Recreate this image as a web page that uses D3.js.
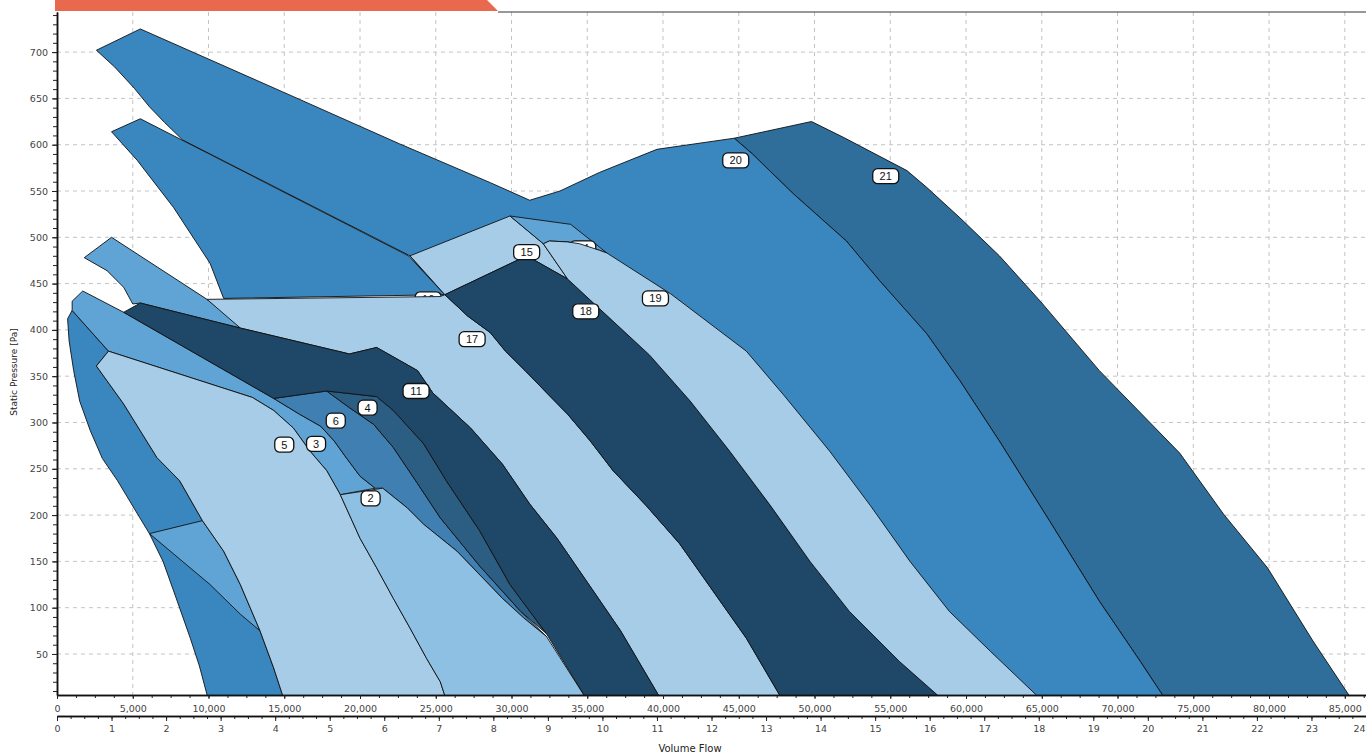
<!DOCTYPE html>
<html><head><meta charset="utf-8">
<script src="https://cdn.jsdelivr.net/npm/d3@7"></script>
<style>body{margin:0;background:#fff}svg{display:block}</style>
</head><body><svg id="c" width="1366" height="754"></svg>
<script>
// ---------- tick data ----------
const flowTicks = [0,5000,10000,15000,20000,25000,30000,35000,40000,45000,50000,55000,60000,65000,70000,75000,80000,85000];
const m3sTicks = [0,1,2,3,4,5,6,7,8,9,10,11,12,13,14,15,16,17,18,19,20,21,22,23,24];
const pressureTicks = [50,100,150,200,250,300,350,400,450,500,550,600,650,700];

// ---------- region outlines: [flow m3/h, static pressure Pa] ----------
const fan21Outline = [[44700,607],[49800,625],[51900,608],[56100,572],[57400,554],[59600,521],[62200,480],[64900,431],[68800,356],[74100,267],[77000,201],[79900,143],[82900,64],[85500,0]];
const edge20_21 = [[44700,607],[45900,590],[48600,547],[52100,496],[54300,453],[57400,396],[59600,345],[62200,280],[65500,194],[68800,107],[71500,42],[73200,0]];
const fan20Outline = [[2600,702],[5500,725],[14900,657],[22600,601],[28600,559],[31200,540],[33200,550],[35800,570],[39600,595]];
const fan20Inner = [[47900,0],[23300,480],[8300,605],[7100,624],[6100,641],[5100,661],[3800,684]];
const fanW2 = [[3600,614],[5500,628],[23200,480],[25600,438],[11000,434],[10100,472],[7700,532],[5300,583]];
const fanW3 = [[1800,478],[3600,500],[9900,433],[11200,417],[12100,402],[5500,429],[5000,428],[4400,446],[3300,464]];
const edge5Left = [[2600,361],[4400,320],[6600,262],[8100,237],[9600,194],[11000,161],[12100,125],[13400,75],[14300,35],[15000,0]];
const fan1Left = [[1000,421],[700,412],[800,388],[1100,356],[1500,323],[2200,291],[3000,261],[4000,237],[5100,207],[6100,180],[7000,150],[7700,118],[8800,67],[9400,37],[10000,0]];
const edge5Top = [[3400,377],[12900,327],[14300,313],[15600,294],[16700,269],[17800,248],[18700,222]];
const edge5Right = [[18700,222],[20000,175],[21100,143],[22200,110],[23300,78],[24400,45],[25300,20],[25700,0]];
const edge3_6 = [[14300,326],[16000,309],[17400,296],[18300,280],[19000,264],[20000,242],[21000,229]];
const fanT = [[6100,180],[9600,194],[11000,161],[12100,125],[13400,75],[12100,93],[10100,125],[7700,158]];
const edge6_4 = [[17800,334],[19300,316],[20900,298],[22200,273],[23800,234],[25300,197],[27900,145],[30600,96],[32300,69]];
const edge2Right = [[21500,229],[23100,208],[24200,190],[26400,161],[29400,110],[30800,89],[32300,69]];
const edge11Left = [[21100,328],[22200,313],[24200,277],[25700,237],[27900,183],[29900,125],[32300,72],[35000,0]];
const edge11Right = [[24800,332],[27300,294],[29400,255],[31200,212],[33000,175],[35400,118],[37200,75],[39900,0]];
const edge11Top = [[4400,419],[5500,429],[12100,402],[19300,374],[21100,381],[23800,356]];
const edge17_18 = [[25600,438],[27100,415],[28600,397],[29600,377],[30900,356],[32200,334],[33700,309],[35200,280],[36700,248],[38900,210],[41100,169],[43300,118],[45500,67],[47900,0]];
const fan15 = [[23300,480],[29900,523],[32100,493],[33700,455],[31000,480],[25600,438]];
const fan16 = [[29900,523],[33900,514],[36300,483],[35800,486],[34500,493],[33700,495],[32500,496],[32100,493]];
const edge18_19 = [[33700,455],[35800,423],[39100,373],[41800,323],[44400,269],[47100,210],[49700,150],[52300,96],[55600,42],[58500,0]];
const edge19_20 = [[36300,483],[40500,439],[42600,413],[45500,377],[48000,329],[51000,269],[53700,210],[56300,150],[58900,96],[61600,53],[65000,0]];

// ---------- labels ----------
const labelNames = ["2","3","4","5","6","11","15","17","18","19","20","21"];
const labelFlows = [20700,17100,20500,15000,18400,23700,31000,27400,34900,39500,44800,54700];
const labelPressures = [218,277,316,276,302,334,484,390,420,434,583,566];
const hiddenNames = ["16","14"];
const hiddenFlows = [24500,34700];
const hiddenPressures = [433,488];

// ---------- build polygons ----------
const rev = a => a.slice().reverse();
const fan21 = fan21Outline.concat(rev(edge20_21.slice(1)));
const fan20 = fan20Outline.concat(edge20_21, fan20Inner);
const fan1 = fan1Left.concat(rev(edge5Left), [[3400,377]]);
const fan5 = edge5Top.concat(edge5Right.slice(1), rev(edge5Left));
const fan3 = [[1700,442],[4400,419]].concat(edge3_6, [[18700,222]], rev(edge5Top).slice(1), [[1000,421],[1000,431]]);
const fan6 = [[14300,326]].concat(edge6_4, rev(edge2Right).slice(1), rev(edge3_6));
const fan4 = [[17800,334]].concat(edge11Left.slice(0,7), rev(edge6_4).slice(1,-1));
const fan2 = [[18700,222]].concat(edge2Right, [[35000,0]], rev(edge5Right).slice(0,-1));
const fan11 = edge11Top.concat(edge11Right, rev(edge11Left), [[17800,334],[14300,326]]);
const fan17 = [[9900,433],[25300,436]].concat(edge17_18, rev(edge11Right), [[23800,356],[21100,381],[19300,374],[12100,402]]);
const fan18 = [[31000,480]].concat(edge18_19, rev(edge17_18));
const fan19 = [[32100,493],[32500,496],[33700,495],[34500,493],[35800,486]].concat(edge19_20, rev(edge18_19));

const cMed = "#3a87c0", cSteel = "#2f6e9b", cLight = "#a6cce8", cMidLight = "#60a3d5",
      c2 = "#8ec0e4", c6 = "#3f7fb1", c4 = "#2c5d82", cDark = "#1f4767";

// ---------- scales ----------
const W = 1366, H = 754;
const mL = 57, mR = 1366, mT = 12, mB = 695;
const x = d3.scaleLinear().domain([0, 86400]).range([mL, mR]);
const x2 = d3.scaleLinear().domain([0, 24]).range([mL, mR]);
const y = d3.scaleLinear().domain([5.7, 743.3]).range([mB, mT]);

const svg = d3.select("#c");
svg.append("rect").attr("width", W).attr("height", H).attr("fill", "#fff");

svg.append("defs").append("clipPath").attr("id", "plot")
  .append("rect").attr("x", mL).attr("y", mT).attr("width", mR-mL).attr("height", mB-mT);

// grid
const grid = svg.append("g").attr("stroke", "#c4c4c4").attr("stroke-dasharray", "4,4").attr("stroke-width", 1);
flowTicks.filter(d => d > 0).forEach(d => grid.append("line").attr("x1", x(d)).attr("x2", x(d)).attr("y1", mT).attr("y2", mB));
pressureTicks.forEach(d => grid.append("line").attr("x1", mL).attr("x2", mR).attr("y1", y(d)).attr("y2", y(d)));

const plot = svg.append("g").attr("clip-path", "url(#plot)");
const line = d3.line().x(d => x(d[0])).y(d => y(d[1]));
function poly(pts, fill) {
  plot.append("path").attr("d", line(pts) + "Z").attr("fill", fill)
    .attr("stroke", "#111").attr("stroke-width", 0.9).attr("stroke-linejoin", "round");
}
function label(t, f, p) {
  const px = x(f), py = y(p), w = t.length > 1 ? 26 : 19, h = 15;
  const g = plot.append("g");
  g.append("rect").attr("x", px - w/2).attr("y", py - h/2).attr("width", w).attr("height", h)
    .attr("rx", 5).attr("fill", "#fff").attr("stroke", "#111").attr("stroke-width", 1.3);
  g.append("text").attr("x", px).attr("y", py + 4).attr("text-anchor", "middle")
    .attr("font-family", "Liberation Sans, Arial, sans-serif").attr("font-size", 11).attr("fill", "#111").text(t);
}

poly(fan21, cSteel);
poly(fan20, cMed);
poly(fanW2, cMed);
poly(fanW3, cMidLight);
poly(fan1, cMed);
poly(fan3, cMidLight);
poly(fanT, cMidLight);
poly(fan5, cLight);
poly(fan6, c6);
poly(fan4, c4);
poly(fan2, c2);
label(hiddenNames[0], hiddenFlows[0], hiddenPressures[0]);
poly(fan17, cLight);
poly(fan11, cDark);
poly(fan15, cLight);
poly(fan18, cDark);
poly(fan16, cMidLight);
label(hiddenNames[1], hiddenFlows[1], hiddenPressures[1]);
poly(fan19, cLight);
labelNames.forEach((t, i) => label(t, labelFlows[i], labelPressures[i]));

// axes
const tickFont = "DejaVu Sans, sans-serif";
function styleAxis(g) {
  g.select(".domain").attr("stroke", "#111").attr("stroke-width", 1.5);
  g.selectAll(".tick line").attr("stroke", "#222");
  g.selectAll("text").attr("font-family", tickFont).attr("font-size", 9.5).attr("fill", "#444");
}
const yMinor = d3.range(10, 741, 10);
svg.append("g").attr("transform", `translate(${mL},0)`)
  .call(d3.axisLeft(y).tickValues(yMinor).tickSize(4).tickSizeOuter(0).tickFormat(""))
  .call(styleAxis);
svg.append("g").attr("transform", `translate(${mL},0)`)
  .call(d3.axisLeft(y).tickValues(pressureTicks).tickSize(5).tickSizeOuter(0).tickPadding(4).tickFormat(d3.format("d")))
  .call(styleAxis);

const xMinor = d3.range(0, 86401, 1250);
svg.append("g").attr("transform", `translate(0,${mB})`)
  .call(d3.axisBottom(x).tickValues(xMinor).tickSize(3).tickSizeOuter(0).tickFormat(""))
  .call(styleAxis);
svg.append("g").attr("transform", `translate(0,${mB})`)
  .call(d3.axisBottom(x).tickValues(flowTicks).tickSize(4).tickSizeOuter(0).tickPadding(6).tickFormat(d3.format(",")))
  .call(styleAxis);

const x2Minor = d3.range(0, 24.01, 0.25);
svg.append("g").attr("transform", `translate(0,716)`)
  .call(d3.axisBottom(x2).tickValues(x2Minor).tickSize(3).tickSizeOuter(0).tickFormat(""))
  .call(styleAxis);
const ax2 = svg.append("g").attr("transform", `translate(0,716)`)
  .call(d3.axisBottom(x2).tickValues(m3sTicks).tickSize(5).tickSizeOuter(0).tickPadding(4).tickFormat(d3.format("d")))
  .call(styleAxis);
ax2.selectAll(".tick text").filter(d => d === 24).attr("text-anchor", "end").attr("dx", "-1");

// frame top
svg.append("line").attr("x1", 498).attr("x2", mR).attr("y1", mT).attr("y2", mT).attr("stroke", "#333").attr("stroke-width", 1.2);

// titles
svg.append("text").attr("transform", "translate(17,372) rotate(-90)").attr("text-anchor", "middle")
  .attr("font-family", tickFont).attr("font-size", 9).attr("fill", "#222").text("Static Pressure [Pa]");
svg.append("text").attr("x", 690).attr("y", 752).attr("text-anchor", "middle")
  .attr("font-family", tickFont).attr("font-size", 10).attr("fill", "#222").text("Volume Flow");

// orange banner
svg.append("path").attr("d", "M55,0 L487,0 L498,11 L55,11 Z").attr("fill", "#e8694d");
</script></body></html>
